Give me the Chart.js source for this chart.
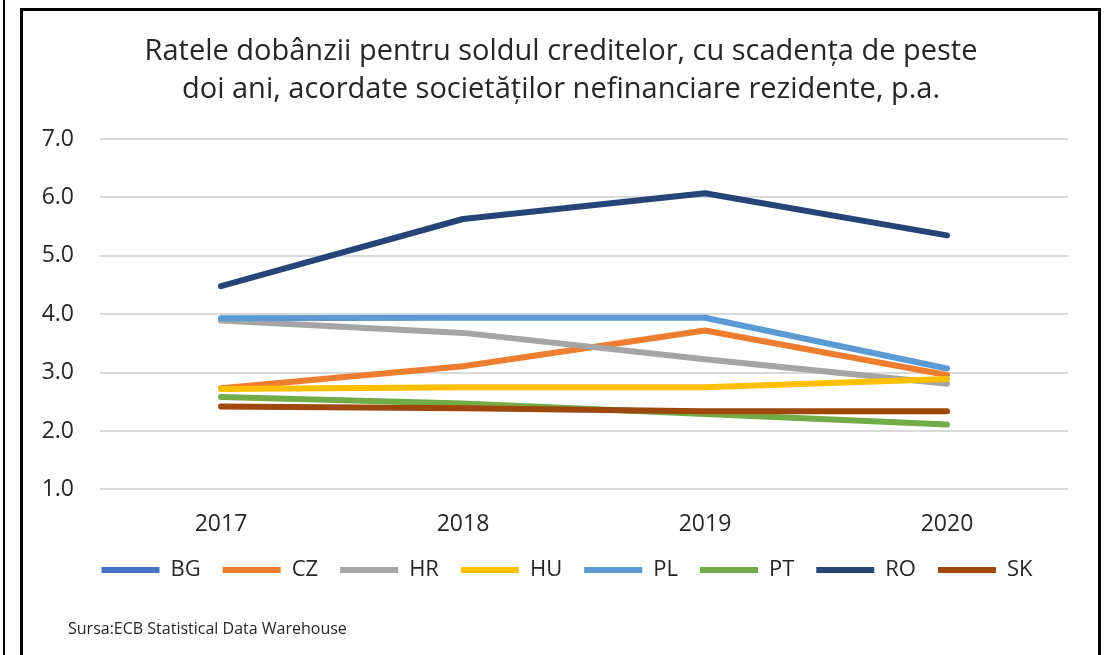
<!DOCTYPE html>
<html>
<head>
<meta charset="utf-8">
<script src="https://cdn.jsdelivr.net/npm/chart.js@4"></script>
<style>
html,body{margin:0;padding:0;background:#fff;}
#wrap{width:1106px;height:655px;position:relative;}
</style>
</head>
<body>
<div id="wrap"><canvas id="c" width="1106" height="655"></canvas></div>
<script>
const years = ["2017", "2018", "2019", "2020"];
const yTicks = [1, 2, 3, 4, 5, 6, 7];
const BG = [null, null, null, null];
const CZ = [2.73, 3.11, 3.72, 2.96];
const HR = [3.89, 3.68, 3.23, 2.81];
const HU = [2.72, 2.75, 2.75, 2.89];
const PL = [3.93, 3.94, 3.94, 3.07];
const PT = [2.58, 2.47, 2.29, 2.11];
const RO = [4.48, 5.63, 6.07, 5.35];
const SK = [2.42, 2.39, 2.34, 2.34];
const seriesNames = ["BG", "CZ", "HR", "HU", "PL", "PT", "RO", "SK"];
const seriesData = [BG, CZ, HR, HU, PL, PT, RO, SK];
const colors = ["#4472C4", "#ED7D31", "#A5A5A5", "#FFC000", "#5B9BD5", "#70AD47", "#264478", "#9E480E"];
const titleLines = ["Ratele dobânzii pentru soldul creditelor, cu scadența de peste", "doi ani, acordate societăților nefinanciare rezidente, p.a."];
const sourceText = "Sursa:ECB Statistical Data Warehouse";

const FONT = "'Open Sans', sans-serif";

const framePlugin = {
  id: 'frame',
  afterLayout(chart) {
    const lg = chart.legend;
    if (lg) {
      const dx = 567 - (lg.left + lg.right) / 2;
      lg.left += dx; lg.right += dx;
      const h = lg.bottom - lg.top;
      lg.top = 537;
      lg.bottom = lg.top + h;
    }
    const tb = chart.titleBlock;
    if (tb) {
      const dx = 561 - (tb.left + tb.right) / 2;
      tb.left += dx; tb.right += dx;
    }
  },
  afterDraw(chart) {
    const ctx = chart.ctx;
    ctx.save();
    ctx.strokeStyle = '#000';
    ctx.lineWidth = 3;
    ctx.beginPath();
    ctx.moveTo(21.5, 660);
    ctx.lineTo(21.5, 9.5);
    ctx.lineTo(1099.5, 9.5);
    ctx.lineTo(1099.5, 660);
    ctx.stroke();
    ctx.lineWidth = 2;
    ctx.beginPath();
    ctx.moveTo(4, 0);
    ctx.lineTo(4, 660);
    ctx.stroke();
    ctx.fillStyle = '#262626';
    ctx.font = "16px " + FONT;
    ctx.textBaseline = 'alphabetic';
    ctx.textAlign = 'left';
    ctx.fillText(sourceText, 68, 634);
    ctx.restore();
  }
};

const datasets = seriesNames.map((n, i) => ({
  label: n,
  data: seriesData[i],
  borderColor: colors[i],
  backgroundColor: colors[i],
  borderWidth: 6,
  borderCapStyle: 'round',
  borderJoinStyle: 'round',
  pointRadius: 0,
  tension: 0,
  order: seriesNames.length - i
}));

new Chart(document.getElementById('c'), {
  type: 'line',
  data: { labels: years, datasets },
  options: {
    responsive: false,
    animation: false,
    devicePixelRatio: 1,
    layout: { padding: { left: 22, right: 38, top: 33, bottom: 50 } },
    plugins: {
      tooltip: { enabled: false },
      title: {
        display: true,
        text: titleLines,
        color: '#262626',
        font: { family: FONT, size: 29, weight: 'normal', lineHeight: 1.31 },
        padding: { top: 0, bottom: 30 }
      },
      legend: {
        position: 'bottom',
        labels: {
          boxWidth: 58,
          boxHeight: 6,
          useBorderRadius: true,
          borderRadius: 3,
          color: '#262626',
          font: { family: FONT, size: 22 },
          padding: 22,
          sort: (a, b) => a.datasetIndex - b.datasetIndex,
          generateLabels(chart) {
            return chart.data.datasets.map((d, i) => ({
              text: d.label,
              fillStyle: d.borderColor,
              strokeStyle: d.borderColor,
              lineWidth: 0,
              hidden: false,
              datasetIndex: i,
              fontColor: '#262626'
            }));
          }
        }
      }
    },
    scales: {
      x: {
        offset: true,
        grid: { display: false },
        border: { display: false },
        ticks: { color: '#262626', font: { family: FONT, size: 23 }, padding: 13 }
      },
      y: {
        min: 1,
        max: 7,
        afterFit(scale) { scale.width = 78; },
        ticks: {
          stepSize: 1,
          color: '#262626',
          font: { family: FONT, size: 23 },
          padding: 26,
          callback: v => Number(v).toFixed(1)
        },
        grid: { color: '#d9d9d9', lineWidth: 2, drawTicks: false },
        border: { display: false }
      }
    }
  },
  plugins: [framePlugin]
});
</script>
</body>
</html>
